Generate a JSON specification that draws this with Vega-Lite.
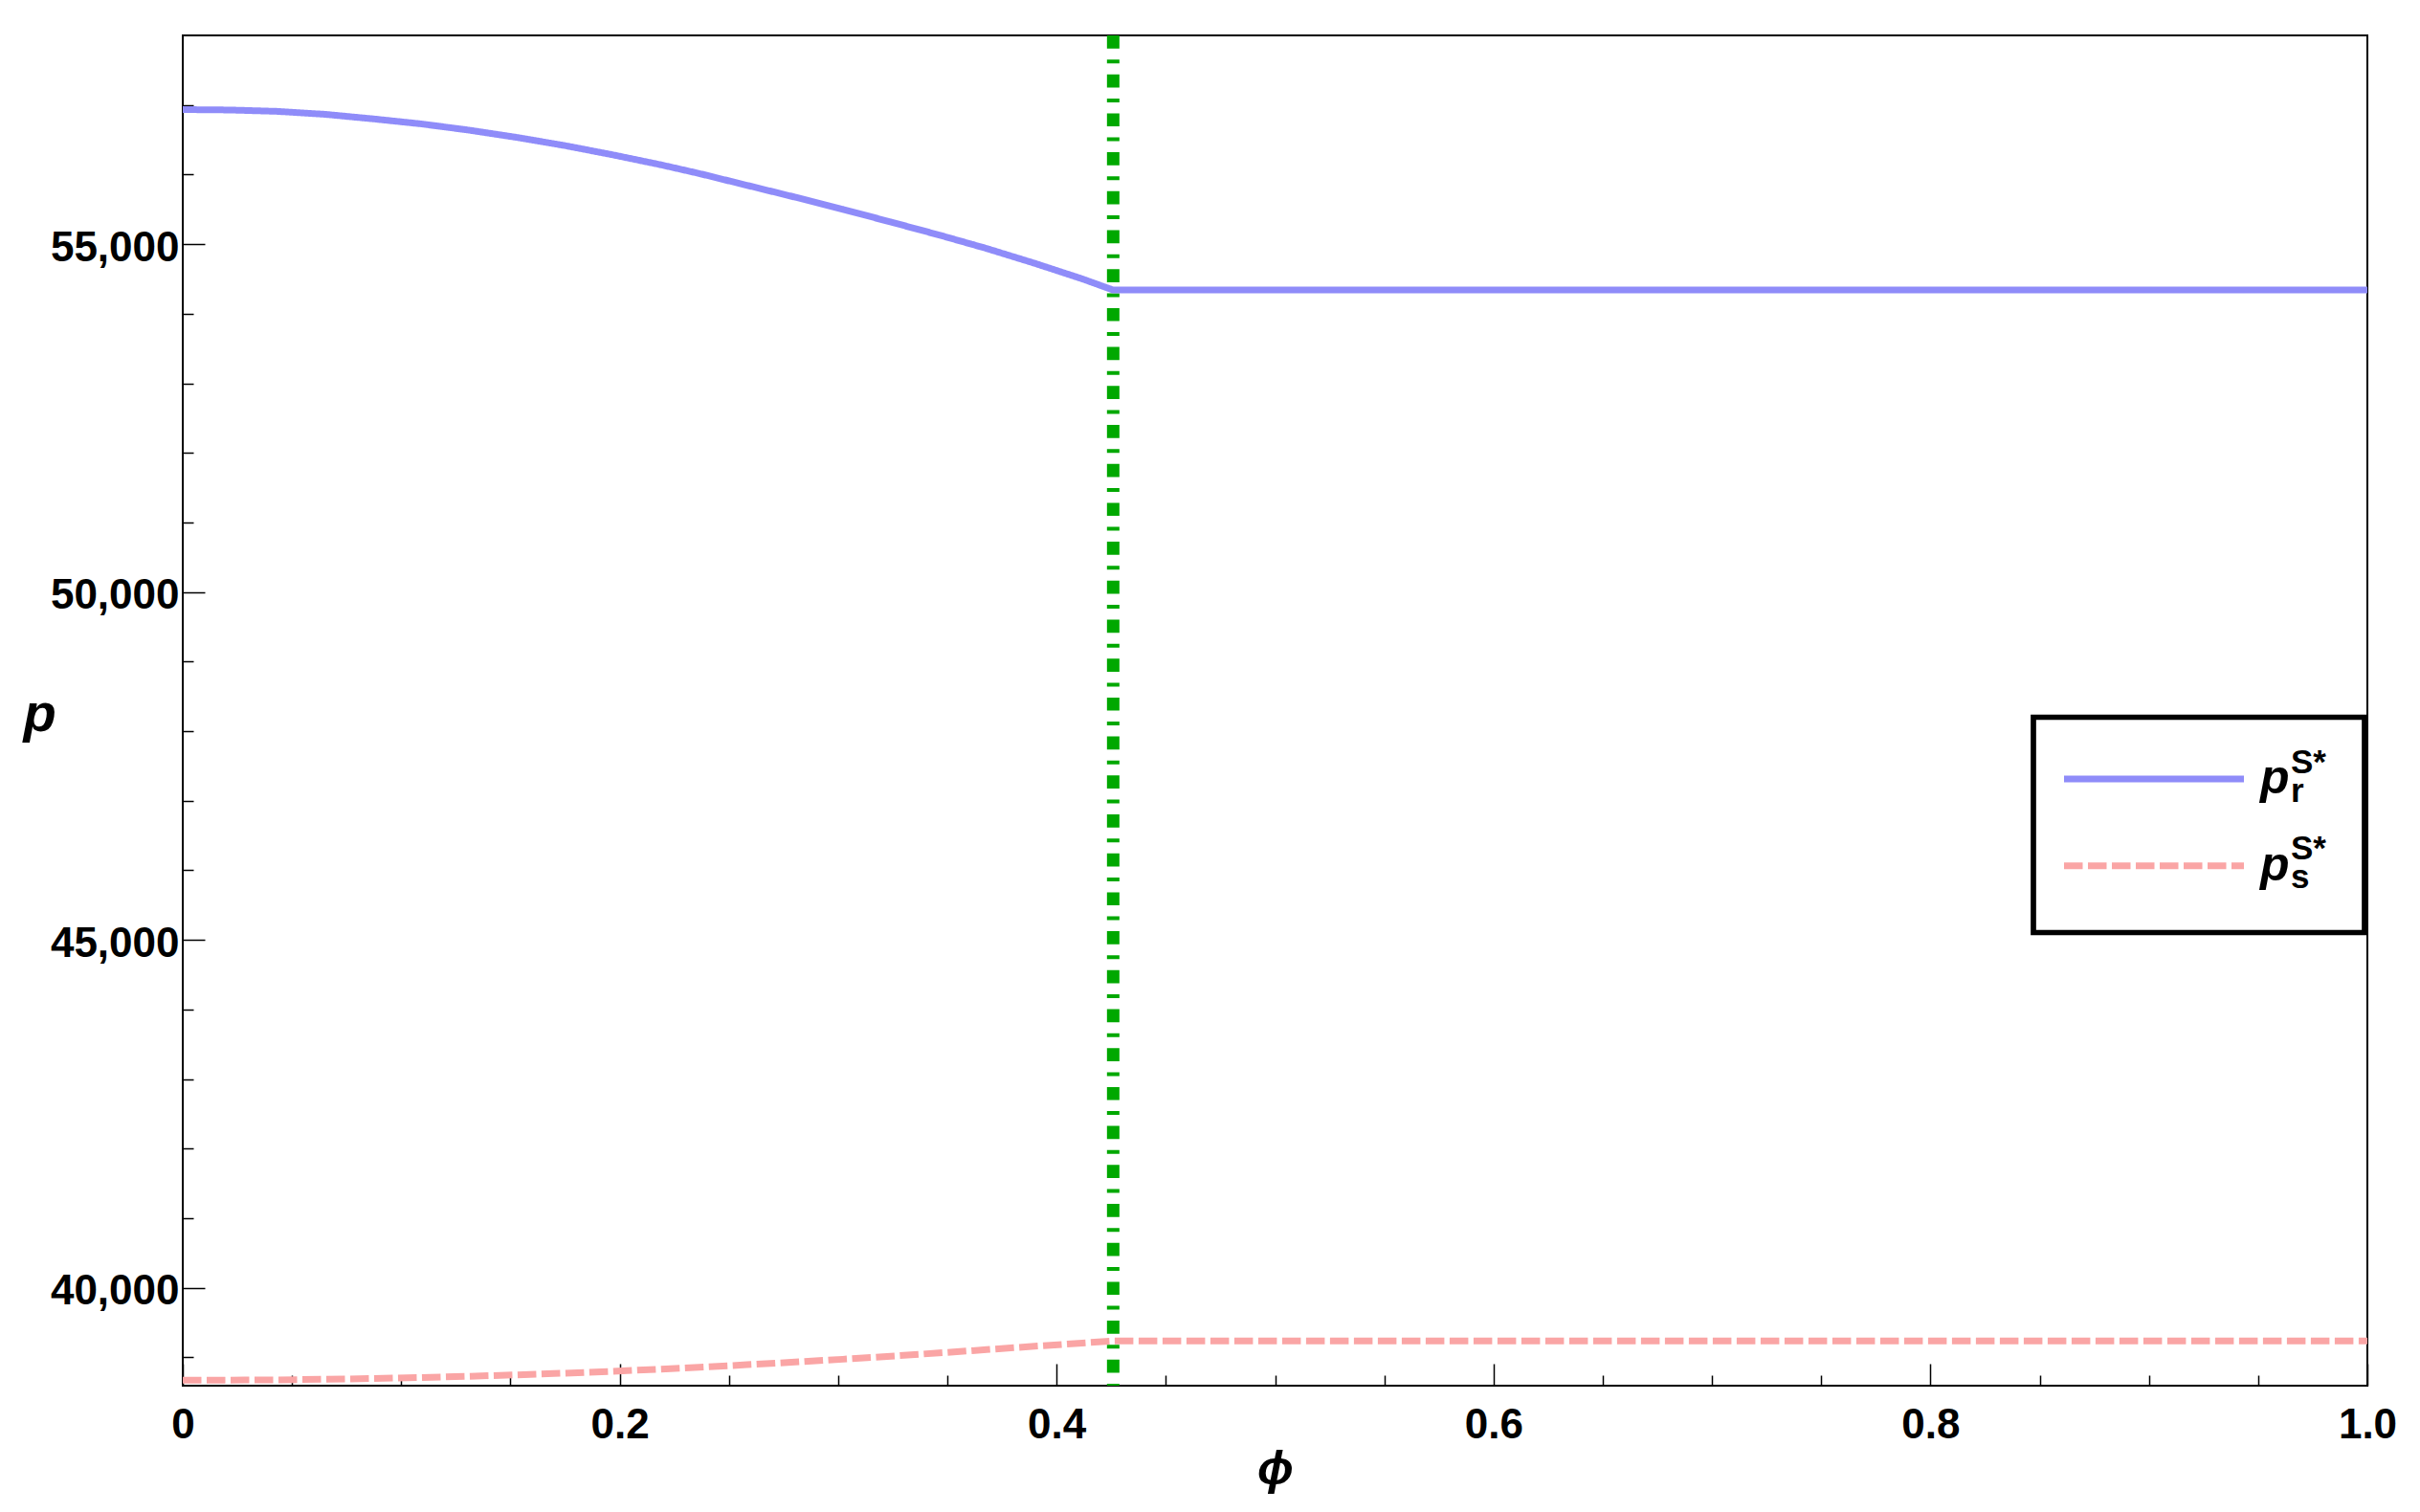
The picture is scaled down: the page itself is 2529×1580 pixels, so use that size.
{
  "$schema": "https://vega.github.io/schema/vega-lite/v6.json",
  "autosize": {"type": "none"},
  "width": 2283,
  "height": 1411,
  "padding": {"left": 191, "top": 37, "right": 55, "bottom": 132},
  "background": "white",
  "config": {
    "font": "Liberation Sans",
    "view": {"stroke": "black", "strokeWidth": 2},
    "legend": {"strokeWidth": 5.7},
    "style": {"guide-label": {"lineHeight": 30}}
  },
  "datasets": {
    "curves": [
      {"phi": 0, "p": 56934, "series": "r", "sub": "r"},
      {"phi": 0.0215, "p": 56928, "series": "r", "sub": "r"},
      {"phi": 0.0434, "p": 56908, "series": "r", "sub": "r"},
      {"phi": 0.0654, "p": 56865, "series": "r", "sub": "r"},
      {"phi": 0.0873, "p": 56800, "series": "r", "sub": "r"},
      {"phi": 0.1092, "p": 56728, "series": "r", "sub": "r"},
      {"phi": 0.1311, "p": 56638, "series": "r", "sub": "r"},
      {"phi": 0.1531, "p": 56533, "series": "r", "sub": "r"},
      {"phi": 0.175, "p": 56416, "series": "r", "sub": "r"},
      {"phi": 0.1969, "p": 56283, "series": "r", "sub": "r"},
      {"phi": 0.2189, "p": 56140, "series": "r", "sub": "r"},
      {"phi": 0.2364, "p": 56015, "series": "r", "sub": "r"},
      {"phi": 0.2583, "p": 55845, "series": "r", "sub": "r"},
      {"phi": 0.2803, "p": 55675, "series": "r", "sub": "r"},
      {"phi": 0.3022, "p": 55500, "series": "r", "sub": "r"},
      {"phi": 0.3241, "p": 55318, "series": "r", "sub": "r"},
      {"phi": 0.3461, "p": 55132, "series": "r", "sub": "r"},
      {"phi": 0.368, "p": 54937, "series": "r", "sub": "r"},
      {"phi": 0.3899, "p": 54725, "series": "r", "sub": "r"},
      {"phi": 0.4118, "p": 54500, "series": "r", "sub": "r"},
      {"phi": 0.4259, "p": 54340, "series": "r", "sub": "r"},
      {"phi": 1.0, "p": 54340, "series": "r", "sub": "r"},
      {"phi": 0, "p": 38671, "series": "s", "sub": "s"},
      {"phi": 0.0215, "p": 38672, "series": "s", "sub": "s"},
      {"phi": 0.0434, "p": 38676, "series": "s", "sub": "s"},
      {"phi": 0.0654, "p": 38684, "series": "s", "sub": "s"},
      {"phi": 0.0873, "p": 38695, "series": "s", "sub": "s"},
      {"phi": 0.1092, "p": 38709, "series": "s", "sub": "s"},
      {"phi": 0.1311, "p": 38727, "series": "s", "sub": "s"},
      {"phi": 0.1531, "p": 38748, "series": "s", "sub": "s"},
      {"phi": 0.175, "p": 38772, "series": "s", "sub": "s"},
      {"phi": 0.1969, "p": 38799, "series": "s", "sub": "s"},
      {"phi": 0.2189, "p": 38830, "series": "s", "sub": "s"},
      {"phi": 0.2364, "p": 38857, "series": "s", "sub": "s"},
      {"phi": 0.2583, "p": 38893, "series": "s", "sub": "s"},
      {"phi": 0.2803, "p": 38932, "series": "s", "sub": "s"},
      {"phi": 0.3022, "p": 38972, "series": "s", "sub": "s"},
      {"phi": 0.3241, "p": 39016, "series": "s", "sub": "s"},
      {"phi": 0.3461, "p": 39062, "series": "s", "sub": "s"},
      {"phi": 0.368, "p": 39110, "series": "s", "sub": "s"},
      {"phi": 0.3899, "p": 39158, "series": "s", "sub": "s"},
      {"phi": 0.4118, "p": 39205, "series": "s", "sub": "s"},
      {"phi": 0.4259, "p": 39234, "series": "s", "sub": "s"},
      {"phi": 1.0, "p": 39234, "series": "s", "sub": "s"}
    ],
    "threshold": [{"phi": 0.4259}]
  },
  "resolve": {"axis": {"x": "independent", "y": "independent"}},
  "layer": [
    {
      "data": {"name": "threshold"},
      "mark": {"type": "rule", "color": "#00a800", "strokeWidth": 13, "strokeDash": [13.7, 11.5, 4, 11.5], "strokeCap": "butt"},
      "encoding": {
        "x": {
          "field": "phi", "type": "quantitative",
          "scale": {"domain": [0, 1], "nice": false, "zero": false},
          "axis": {"orient": "bottom", "values": [0, 0.2, 0.4, 0.6, 0.8, 1], "labels": false, "domain": false, "grid": false, "ticks": true, "tickSize": -23, "tickWidth": 1.5, "tickColor": "black", "title": null}
        }
      }
    },
    {
      "data": {"name": "curves"},
      "mark": {"type": "line", "strokeCap": "butt", "strokeJoin": "miter"},
      "encoding": {
        "x": {
          "field": "phi", "type": "quantitative",
          "scale": {"domain": [0, 1], "nice": false, "zero": false},
          "axis": {"orient": "bottom", "values": [0, 0.2, 0.4, 0.6, 0.8, 1], "labelExpr": "datum.value == 0 ? '0' : format(datum.value, '.1f')", "ticks": false, "domain": false, "grid": false, "labelPadding": 19, "labelFontSize": 44, "labelFontWeight": "bold", "labelColor": "black", "labelFlush": false, "labelOverlap": false, "labelBound": false, "title": "ϕ", "titleFontSize": 50, "titleFontStyle": "italic", "titleFontWeight": "bold", "titleColor": "black", "titleX": 1141.5, "titleY": 102, "titleBaseline": "alphabetic", "titleAlign": "center"}
        },
        "y": {
          "field": "p", "type": "quantitative",
          "scale": {"domain": [38592, 58000], "nice": false, "zero": false},
          "axis": {"orient": "left", "values": [40000, 45000, 50000, 55000], "labelExpr": "format(datum.value, ',')", "ticks": false, "domain": false, "grid": false, "labelPadding": 4, "labelFontSize": 44, "labelFontWeight": "bold", "labelColor": "black", "labelBaseline": "alphabetic", "labelOffset": 17, "labelFlush": false, "labelOverlap": false, "labelBound": false, "title": "p", "titleAngle": 0, "titleX": -150, "titleY": 726, "titleBaseline": "alphabetic", "titleAlign": "center", "titleFontSize": 56, "titleFontStyle": "italic", "titleFontWeight": "bold", "titleColor": "black"}
        },
        "color": {
          "field": "series", "type": "nominal",
          "scale": {"domain": ["r", "s"], "range": ["#8f8cf9", "#faa5a5"]},
          "legend": {"orient": "none", "legendX": 1934, "legendY": 712.5, "title": null, "padding": 39.5, "strokeColor": "black", "symbolType": "M-9.4,0H9.4M16.65,1.63", "symbolSize": 400, "symbolStrokeWidth": 7, "symbolOffset": 61.5, "labelOffset": 86, "labelExpr": "'p'", "labelFontSize": 50, "labelFontStyle": "italic", "labelFontWeight": "bold", "labelColor": "black", "rowPadding": 34.7}
        },
        "strokeDash": {
          "field": "series", "type": "nominal",
          "scale": {"domain": ["r", "s"], "range": [[1, 0], [19.5, 5.5]]},
          "legend": {"orient": "none", "legendX": 1934, "legendY": 712.5, "title": null, "padding": 39.5, "strokeColor": "black", "symbolType": "M-9.4,0H9.4M16.65,1.63", "symbolSize": 400, "symbolStrokeWidth": 7, "symbolOffset": 61.5, "labelOffset": 86, "labelExpr": "'p'", "labelFontSize": 50, "labelFontStyle": "italic", "labelFontWeight": "bold", "labelColor": "black", "rowPadding": 34.7}
        },
        "strokeWidth": {"value": 7},
        "opacity": {
          "field": "sub", "type": "nominal",
          "scale": {"range": [1, 1]},
          "legend": {"orient": "none", "legendX": 2168, "legendY": 725.8, "title": null, "padding": 0, "strokeColor": "transparent", "symbolType": "M0,0M0,6.75", "symbolSize": 400, "symbolStrokeWidth": 0, "symbolStrokeColor": "transparent", "symbolFillColor": "transparent", "labelOffset": 0, "labelBaseline": "top", "labelExpr": "['S*', datum.label]", "labelFontSize": 35, "labelFontWeight": "bold", "labelColor": "black", "rowPadding": 5}
        }
      }
    },
    {
      "data": {"name": "curves"},
      "mark": {"type": "line", "opacity": 0},
      "encoding": {
        "x": {
          "field": "phi", "type": "quantitative",
          "scale": {"domain": [0, 1], "nice": false, "zero": false},
          "axis": {"orient": "bottom", "values": [0.05, 0.1, 0.15, 0.25, 0.3, 0.35, 0.45, 0.5, 0.55, 0.65, 0.7, 0.75, 0.85, 0.9, 0.95], "labels": false, "domain": false, "grid": false, "ticks": true, "tickSize": -11, "tickWidth": 1.5, "tickColor": "black", "title": null}
        },
        "y": {
          "field": "p", "type": "quantitative",
          "scale": {"domain": [38592, 58000], "nice": false, "zero": false},
          "axis": {"orient": "left", "values": [40000, 45000, 50000, 55000], "labels": false, "domain": false, "grid": false, "ticks": true, "tickSize": -23, "tickWidth": 1.5, "tickColor": "black", "title": null}
        },
        "detail": {"field": "series"}
      }
    },
    {
      "data": {"name": "curves"},
      "mark": {"type": "line", "opacity": 0},
      "encoding": {
        "x": {
          "field": "phi", "type": "quantitative",
          "scale": {"domain": [0, 1], "nice": false, "zero": false},
          "axis": null
        },
        "y": {
          "field": "p", "type": "quantitative",
          "scale": {"domain": [38592, 58000], "nice": false, "zero": false},
          "axis": {"orient": "left", "values": [39000, 41000, 42000, 43000, 44000, 46000, 47000, 48000, 49000, 51000, 52000, 53000, 54000, 56000, 57000], "labels": false, "domain": false, "grid": false, "ticks": true, "tickSize": -11, "tickWidth": 1.5, "tickColor": "black", "title": null}
        },
        "detail": {"field": "series"}
      }
    }
  ]
}
